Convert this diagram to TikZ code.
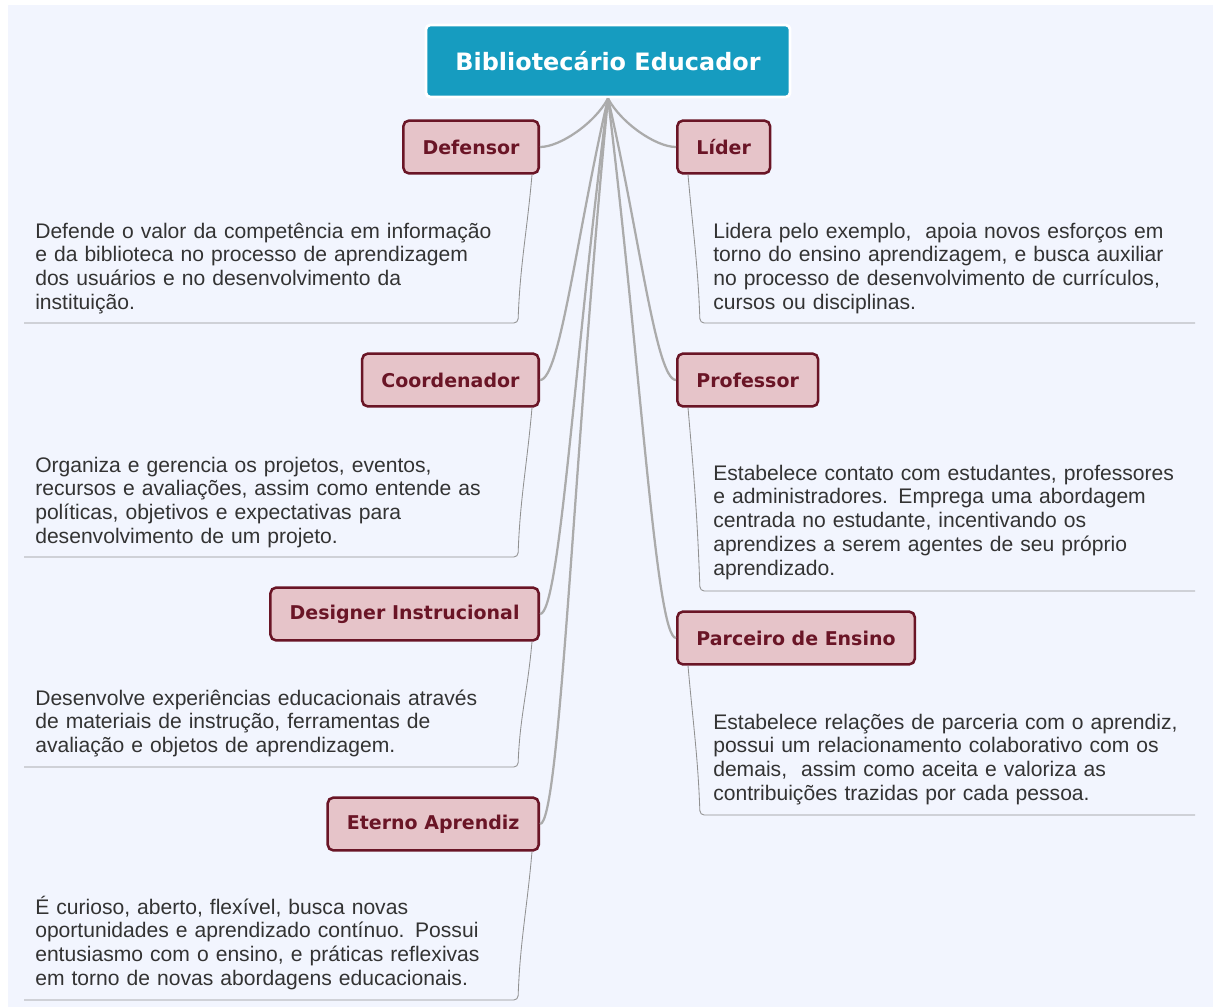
\documentclass[tikz,border=0pt]{standalone}
\usepackage{fontspec}
\setmainfont{Liberation Sans}
\newfontfamily\labelfont{DejaVu Sans}
\definecolor{paper}{HTML}{F2F5FE}
\definecolor{rootblue}{HTML}{169CC0}
\definecolor{rolefill}{HTML}{E6C4C9}
\definecolor{roledark}{HTML}{6A1526}
\definecolor{bodytext}{HTML}{333333}
\definecolor{twig}{HTML}{ABABAB}
\tikzset{
    root/.style={fill=rootblue,draw=white,line width=2pt,rounded corners=3pt,
        text=white,font=\labelfont\bfseries\fontsize{17}{20}\selectfont,
        minimum width=9.1cm,minimum height=1.8cm},
    role/.style={fill=rolefill,draw=roledark,line width=1.8pt,rounded corners=4pt,
        text=roledark,font=\labelfont\bfseries\fontsize{13.5}{16}\selectfont,
        inner xsep=0.48cm,minimum height=1.32cm},
    note/.style={text=bodytext,font=\fontsize{15}{17}\selectfont,
        align=left,inner sep=0pt,text width=12.5cm},
    branch/.style={draw=twig,line width=1.6pt},
    underline/.style={draw=twig!85!black,line width=0.6pt,rounded corners=3pt}
}
\begin{document}
\begin{tikzpicture}[x=0.025cm,y=-0.025cm]
    \useasboundingbox (0,0) rectangle (1213,1007);
    \fill[white] (0,0) rectangle (1213,1007);
    \fill[paper] (8,5) rectangle (1213,1007);
    % centre
    \node[root] (root) at (608,61) {Bibliotecário Educador};
    % papeis a esquerda
    \node[role,anchor=east] (def) at (540,147) {Defensor};
    \node[role,anchor=east] (coo) at (540,380) {Coordenador};
    \node[role,anchor=east] (des) at (540,614) {Designer Instrucional};
    \node[role,anchor=east] (ete) at (540,824) {Eterno Aprendiz};
    % papeis a direita
    \node[role,anchor=west] (lid) at (676,147) {Líder};
    \node[role,anchor=west] (pro) at (676,380) {Professor};
    \node[role,anchor=west] (par) at (676,638) {Parceiro de Ensino};
    % textos
    \node[note,anchor=base west] (tdef) at (35,238) {Defende o valor da competência em informação\\e da biblioteca no processo de aprendizagem\\dos usuários e no desenvolvimento da\\instituição.};
    \node[note,anchor=base west] (tcoo) at (35,472) {Organiza e gerencia os projetos, eventos,\\recursos e avaliações, assim como entende as\\políticas, objetivos e expectativas para\\desenvolvimento de um projeto.};
    \node[note,anchor=base west] (tdes) at (35,705) {Desenvolve experiências educacionais através\\de materiais de instrução, ferramentas de\\avaliação e objetos de aprendizagem.};
    \node[note,anchor=base west] (tete) at (35,914) {É curioso, aberto, flexível, busca novas\\oportunidades e aprendizado contínuo. Possui\\entusiasmo com o ensino, e práticas reflexivas\\em torno de novas abordagens educacionais.};
    \node[note,anchor=base west] (tlid) at (713,238) {Lidera pelo exemplo,\ \ apoia novos esforços em\\torno do ensino aprendizagem, e busca auxiliar\\no processo de desenvolvimento de currículos,\\cursos ou disciplinas.};
    \node[note,anchor=base west] (tpro) at (713,480) {Estabelece contato com estudantes, professores\\e administradores. Emprega uma abordagem\\centrada no estudante, incentivando os\\aprendizes a serem agentes de seu próprio\\aprendizado.};
    \node[note,anchor=base west] (tpar) at (713,729) {Estabelece relações de parceria com o aprendiz,\\possui um relacionamento colaborativo com os\\demais,\ \ assim como aceita e valoriza as\\contribuições trazidas por cada pessoa.};
    % ramos do centro
    \foreach \n/\o/\d in {def/-118/0.7,coo/-103/3.5,des/-97.5/6.4,ete/-95.5/9}
        \draw[branch] (root.south) to[out=\o,in=0,out distance=\d cm,in distance=0.5cm] (\n.east);
    \foreach \n/\o/\d in {lid/-62/0.7,pro/-77/3.5,par/-83/6.7}
        \draw[branch] (root.south) to[out=\o,in=180,out distance=\d cm,in distance=0.5cm] (\n.west);
    % linhas dos textos
    \foreach \n/\y in {def/323,coo/557,des/767,ete/1000}{
        \coordinate (\n c) at (518,\y);
        \coordinate (\n e) at (24,\y);
        \draw[underline] ([xshift=-0.2cm]\n.south east) to[out=-95,in=88] (\n c) -- (\n e);
    }
    \foreach \n/\y in {lid/323,pro/591,par/815}{
        \coordinate (\n c) at (700,\y);
        \coordinate (\n e) at (1195,\y);
        \draw[underline] ([xshift=0.3cm]\n.south west) to[out=-85,in=92] (\n c) -- (\n e);
    }
\end{tikzpicture}
\end{document}
